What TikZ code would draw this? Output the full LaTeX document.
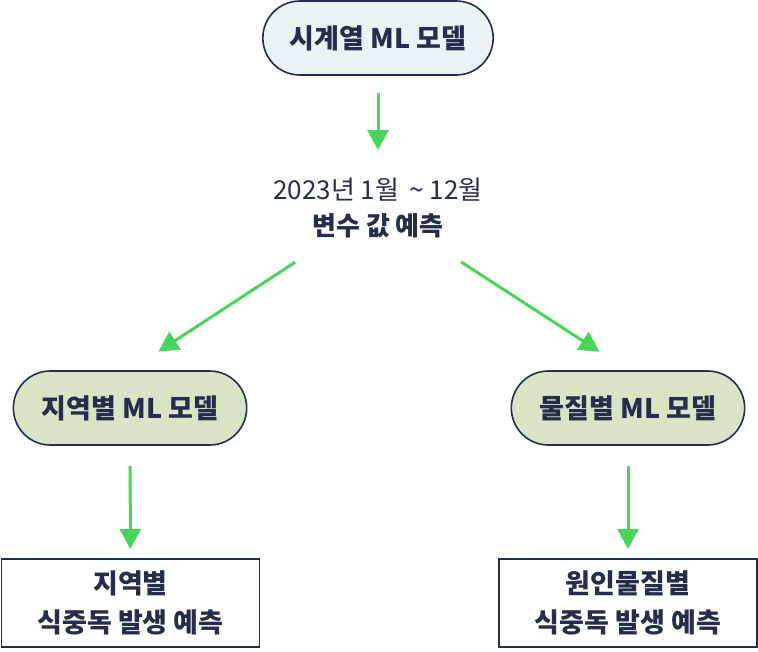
\documentclass[tikz,border=0pt]{standalone}
\usepackage{fontspec}
\setmainfont{Noto Sans CJK KR}
\usepackage{tikz}
\usetikzlibrary{arrows.meta,positioning,shapes.misc}
\definecolor{navy}{HTML}{252D4A}
\definecolor{flowgreen}{HTML}{4CD45A}
\definecolor{topfill}{HTML}{EAF2F4}
\definecolor{mlfill}{HTML}{D8E4C5}
\tikzset{
  pill/.style={rounded rectangle,draw=navy,line width=1.6pt,text=navy,
    font=\fontsize{27}{32}\selectfont\bfseries,minimum height=74pt},
  outbox/.style={rectangle,draw=navy,line width=1.6pt,text=navy,align=center,
    font=\fontsize{27}{39}\selectfont\bfseries,minimum width=258pt,minimum height=88pt},
  flow/.style={draw=flowgreen,line width=3pt,-{Triangle[length=20pt,width=21pt]}},
  every node/.style={text=navy}
}

\begin{document}
\begin{tikzpicture}[x=1pt,y=-1pt]
  \useasboundingbox (0,0) rectangle (758,651);
  % models
  \node[pill,fill=topfill,minimum width=237pt] (tsmodel) at (378,38) {시계열 ML 모델};
  \node[align=center,font=\fontsize{26}{36}\selectfont] (predict) at (378,208)
    {2023년 1월 \,\textasciitilde{} 12월\\ \textbf{변수 값 예측}};
  \node[pill,fill=mlfill,minimum width=240pt] (regionml) at (130,408) {지역별 ML 모델};
  \node[pill,fill=mlfill,minimum width=240pt] (substml) at (628,408) {물질별 ML 모델};
  % outputs
  \node[outbox] (regionout) at (130.5,603) {지역별\\식중독 발생 예측};
  \node[outbox] (substout) at (628,603) {원인물질별\\식중독 발생 예측};
  % arrows
  \draw[flow,shorten <=55pt,shorten >=58pt] (tsmodel.center) -- (predict.center);
  \draw[flow,shorten <=99pt,shorten >=34pt] (predict.center) -- (regionml.north);
  \draw[flow,shorten <=99pt,shorten >=34pt] (predict.center) -- (substml.north);
  \draw[flow,shorten <=58pt,shorten >=54pt] (regionml.center) -- (regionout.center);
  \draw[flow,shorten <=58pt,shorten >=54pt] (substml.center) -- (substout.center);
\end{tikzpicture}
\end{document}
